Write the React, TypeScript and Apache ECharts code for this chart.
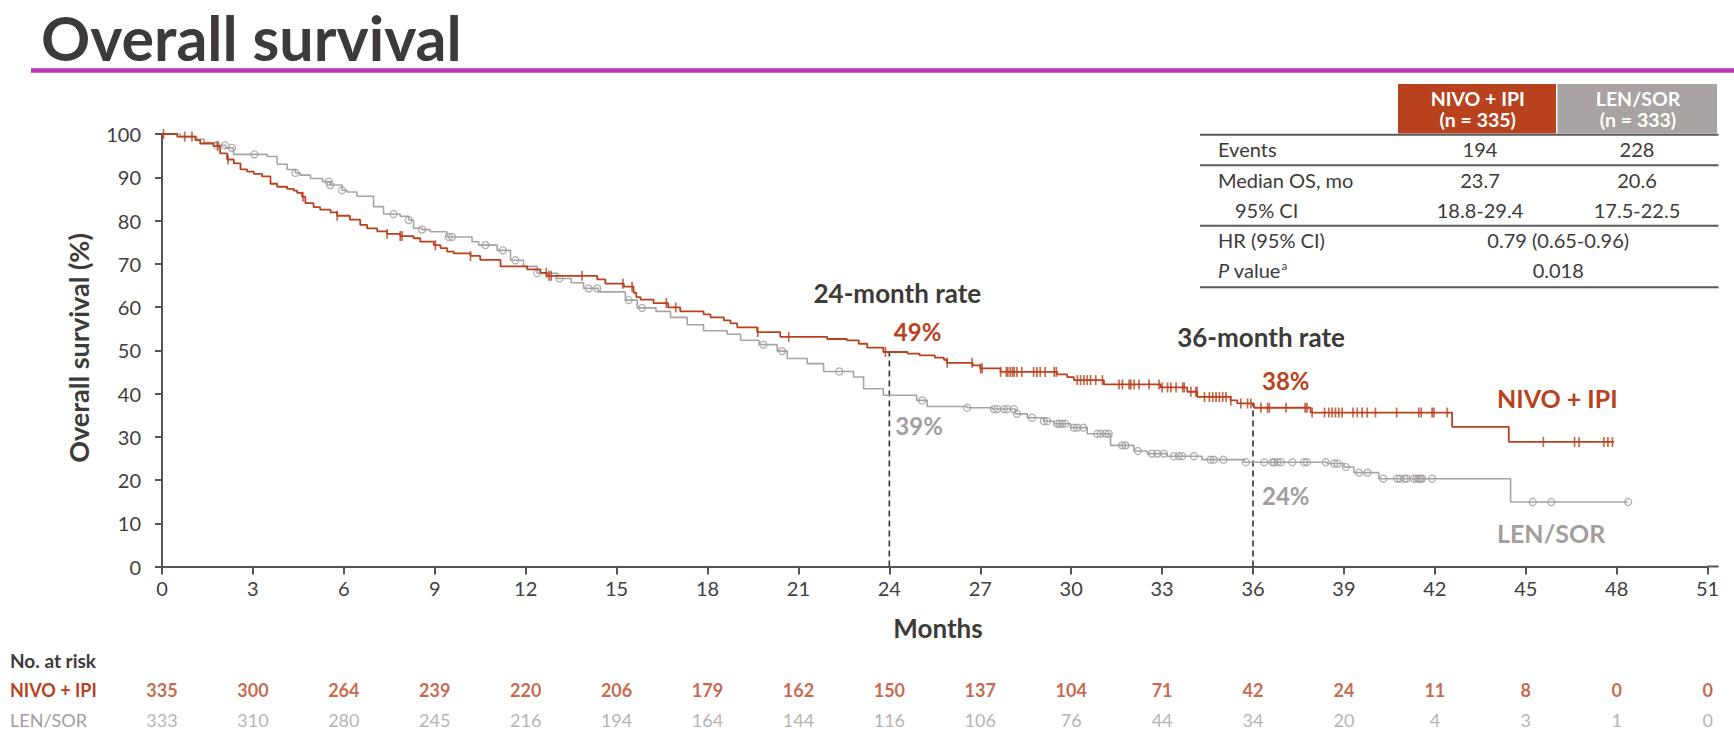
import React, { useEffect, useRef } from "react";
import * as echarts from "echarts";

// ---------------- DATA ----------------
const monthTicks = [0, 3, 6, 9, 12, 15, 18, 21, 24, 27, 30, 33, 36, 39, 42, 45, 48, 51];

// Kaplan-Meier steps: [month, survival % from that month on]
const nivoSteps: [number, number][] = [
  [0, 100], [0.5, 99.4], [1.1, 98.6], [1.26, 97.8], [1.7, 97.2], [1.92, 95.5], [2.15, 94.1], [2.37, 93.2],
  [2.59, 91.8], [2.81, 91.3], [3.03, 90.8], [3.3, 90.2], [3.58, 88.5], [3.8, 87.8], [4.13, 87.3], [4.35, 86.9],
  [4.46, 86.4], [4.62, 85.5], [4.73, 84.0], [5.0, 83.1], [5.22, 82.5], [5.56, 81.9], [5.78, 81.1], [6.2, 80.2],
  [6.54, 79.0], [6.77, 78.2], [7.1, 77.5], [7.43, 76.9], [7.86, 76.4], [8.3, 75.9], [8.52, 75.1], [8.97, 74.3],
  [9.19, 73.6], [9.41, 72.8], [9.63, 72.4], [10.18, 71.8], [10.5, 70.9], [11.17, 69.4], [12.05, 68.7],
  [12.49, 67.9], [12.7, 67.2], [14.36, 66.4], [14.63, 65.4], [15.24, 64.7], [15.56, 63.3], [15.65, 62.3],
  [15.79, 61.7], [16.22, 60.9], [16.7, 59.9], [17.1, 59.0], [17.87, 58.3], [18.1, 57.6], [18.54, 56.9],
  [18.76, 56.2], [18.98, 55.3], [19.64, 54.2], [20.4, 53.1], [21.95, 52.6], [22.6, 52.3], [22.99, 51.5],
  [23.27, 50.6], [23.8, 49.6], [24.6, 49.2], [25.0, 48.8], [25.5, 48.3], [25.8, 47.8], [25.9, 47.1],
  [26.75, 46.5], [27.0, 45.8], [27.67, 45.0], [29.54, 44.4], [29.87, 43.8], [30.09, 43.1], [31.08, 42.1],
  [32.95, 41.4], [33.83, 40.4], [34.16, 39.2], [35.26, 38.4], [35.48, 37.7], [36.03, 36.7], [37.9, 35.6],
  [42.57, 32.3], [44.44, 28.8], [47.91, 28.8],
];

const lenSteps: [number, number][] = [
  [0, 100], [0.6, 99.4], [1.15, 98.8], [1.39, 98.0], [1.8, 97.4], [2.1, 96.8], [2.36, 95.3], [3.47, 94.8],
  [3.8, 93.0], [4.13, 91.8], [4.4, 91.0], [4.56, 90.5], [4.9, 89.7], [5.3, 89.0], [5.55, 88.2], [5.94, 87.0],
  [6.1, 86.6], [6.43, 85.6], [6.98, 83.2], [7.31, 81.5], [7.86, 81.0], [8.14, 80.1], [8.3, 78.2], [8.58, 77.9],
  [8.85, 77.4], [9.4, 76.2], [10.23, 75.1], [10.45, 74.3], [11.06, 73.1], [11.5, 70.8], [11.93, 69.4],
  [12.38, 67.8], [13.04, 66.6], [13.5, 65.6], [13.91, 64.3], [14.4, 63.5], [15.29, 61.6], [15.68, 59.8],
  [16.3, 59.0], [16.78, 57.6], [17.33, 55.9], [17.87, 54.5], [18.65, 53.7], [19.09, 52.3], [19.7, 51.3],
  [20.3, 49.8], [20.63, 48.1], [21.29, 46.9], [21.83, 45.1], [22.82, 43.8], [23.15, 41.1], [23.8, 39.6],
  [24.9, 38.4], [25.25, 37.0], [26.57, 36.7], [27.4, 36.4], [28.16, 35.3], [28.55, 34.4], [29.1, 33.6],
  [29.43, 33.0], [29.98, 32.1], [30.53, 30.7], [31.3, 28.0], [32.07, 26.7], [32.51, 26.1], [33.17, 25.5],
  [34.32, 24.7], [35.7, 24.1], [38.45, 23.8], [39.0, 23.0], [39.33, 21.7], [40.15, 20.3], [44.5, 14.9],
  [48.38, 14.9],
];

const nivoCensorMonths = [
  0.05, 0.75, 0.99, 1.84, 2.18, 4.65, 5.78, 7.43, 7.86, 7.92, 9.02, 10.18, 12.68, 12.77, 12.84, 13.86, 15.21,
  15.51, 16.64, 16.95, 19.66, 20.68, 23.87, 25.91, 26.73, 27.01, 27.06, 27.67, 27.86, 27.91, 27.99, 28.06,
  28.12, 28.21, 28.37, 28.76, 28.87, 28.98, 29.14, 29.44, 29.51, 30.2, 30.31, 30.42, 30.53, 30.64, 30.81,
  31.03, 31.58, 31.69, 31.91, 31.97, 32.08, 32.24, 32.57, 32.9, 33.0, 33.18, 33.29, 33.46, 33.68, 33.73,
  33.95, 34.11, 34.15, 34.4, 34.56, 34.67, 34.78, 34.89, 35.0, 35.11, 35.27, 35.6, 35.82, 35.93, 36.26,
  36.48, 36.54, 37.09, 37.72, 37.78, 37.95, 38.36, 38.5, 38.61, 38.72, 38.83, 38.94, 39.3, 39.44, 39.6,
  39.77, 40.04, 40.74, 41.47, 41.55, 41.91, 41.97, 42.41, 45.58, 46.61, 46.76, 47.58, 47.71, 47.86,
];

const lenCensorMonths = [
  1.8, 2.08, 2.31, 3.05, 4.4, 5.5, 5.55, 5.94, 7.64, 8.14, 8.58, 9.46, 9.57, 10.67, 11.25, 11.66, 12.38,
  13.11, 14.08, 14.36, 15.4, 15.84, 19.84, 20.46, 22.35, 25.08, 26.57, 27.45, 27.56, 27.78, 27.89, 28.11,
  28.21, 28.71, 29.1, 29.21, 29.54, 29.62, 29.7, 29.81, 30.09, 30.2, 30.4, 30.86, 30.97, 31.13, 31.24,
  31.68, 31.79, 32.2, 32.67, 32.84, 33.06, 33.39, 33.55, 33.66, 34.05, 34.6, 34.71, 35.02, 35.76, 36.37,
  36.64, 36.7, 36.81, 36.92, 37.3, 37.69, 37.78, 38.4, 38.68, 38.79, 39.06, 39.5, 39.78, 40.3, 40.76,
  40.85, 41.0, 41.07, 41.31, 41.4, 41.47, 41.53, 41.58, 41.91, 45.23, 45.84, 48.38,
];

const landmarkMonths = [24, 36];
const landmarkTitles = ["24-month rate", "36-month rate"];
const nivoLandmarkRates = ["49%", "38%"];
const lenLandmarkRates = ["39%", "24%"];

const riskRowNames = ["NIVO + IPI", "LEN/SOR"];
const nivoAtRisk = [335, 300, 264, 239, 220, 206, 179, 162, 150, 137, 104, 71, 42, 24, 11, 8, 0, 0];
const lenAtRisk = [333, 310, 280, 245, 216, 194, 164, 144, 116, 106, 76, 44, 34, 20, 4, 3, 1, 0];

const tableHeaders = [
  ["NIVO + IPI", "(n = 335)"],
  ["LEN/SOR", "(n = 333)"],
];
const tableRows: string[][] = [
  ["Events", "194", "228"],
  ["Median OS, mo", "23.7", "20.6"],
  ["95% CI", "18.8-29.4", "17.5-22.5"],
  ["HR (95% CI)", "0.79 (0.65-0.96)"],
  ["P value", "0.018"],
];

// ---------------- STYLE ----------------
const FONT = 'Lato, "Noto Sans", sans-serif';
const ORANGE = "#B8421E";
const GREY_LINE = "#A8A4A4";
const GREY_TEXT = "#A39E9E";
const DARK = "#3D3A3A";
const AXIS = "#555555";

function stepValue(steps: [number, number][], t: number): number {
  let v = steps[0][1];
  for (const [x, y] of steps) {
    if (x <= t) v = y;
    else break;
  }
  return v;
}

function txt(x: number, y: number, text: string, o: any = {}): any {
  const { rotation, ...style } = o;
  return {
    type: "text",
    x,
    y,
    rotation: rotation || 0,
    silent: true,
    style: {
      text,
      fontFamily: FONT,
      fontSize: 20,
      fill: DARK,
      align: "left",
      verticalAlign: "middle",
      ...style,
    },
  };
}

function buildGraphic(chart: any): any[] {
  const g: any[] = [];
  // title + rule
  g.push(txt(41, 37, "Overall survival", { fontSize: 61, fontWeight: "bold", fill: "#3E3A39" }));
  g.push({ type: "line", silent: true, shape: { x1: 31, y1: 70.5, x2: 1734, y2: 70.5 }, style: { stroke: "#BE33BB", lineWidth: 4.5 } });

  // summary table
  const colX = [1398, 1557.5, 1718.5];
  const headFill = [ORANGE, "#A8A2A2"];
  tableHeaders.forEach((h, i) => {
    g.push({ type: "rect", silent: true, shape: { x: colX[i], y: 84, width: colX[i + 1] - colX[i] - 1.5, height: 49.5 }, style: { fill: headFill[i] } });
    const cx = (colX[i] + colX[i + 1]) / 2;
    g.push(txt(cx, 98, h[0], { fill: "#fff", fontWeight: "bold", fontSize: 19.5, align: "center" }));
    g.push(txt(cx, 119.5, h[1], { fill: "#fff", fontWeight: "bold", fontSize: 19.5, align: "center" }));
  });
  [134.7, 165.3, 225.7, 287.3].forEach((y) => {
    g.push({ type: "line", silent: true, shape: { x1: 1200, y1: y, x2: 1718.5, y2: y }, style: { stroke: "#5A5A5A", lineWidth: 2 } });
  });
  const rowY = [149, 179.7, 209.7, 240.3, 269.7];
  const dataCx = [1480, 1637];
  tableRows.forEach((r, i) => {
    const indent = r[0] === "95% CI" ? 1235 : 1218;
    if (r[0] === "P value") {
      g.push({
        type: "text",
        x: indent,
        y: rowY[i],
        silent: true,
        style: {
          text: "{i|P} value{s|a}",
          fontFamily: FONT,
          fontSize: 20,
          fill: DARK,
          align: "left",
          verticalAlign: "middle",
          rich: {
            i: { fontFamily: FONT, fontSize: 20, fontStyle: "italic", fill: DARK },
            s: { fontFamily: FONT, fontSize: 11, fill: DARK, verticalAlign: "top", padding: [0, 0, 0, 1] },
          },
        },
      });
    } else {
      g.push(txt(indent, rowY[i], r[0]));
    }
    if (r.length === 3) {
      g.push(txt(dataCx[0], rowY[i], r[1], { align: "center" }));
      g.push(txt(dataCx[1], rowY[i], r[2], { align: "center" }));
    } else {
      g.push(txt((colX[0] + colX[2]) / 2, rowY[i], r[1], { align: "center" }));
    }
  });

  // x-axis line runs a little past the last tick
  const [xEnd, yBase] = chart.convertToPixel({ gridIndex: 0 }, [51, 0]);
  g.push({ type: "line", silent: true, shape: { x1: xEnd, y1: yBase, x2: xEnd + 11, y2: yBase }, style: { stroke: AXIS, lineWidth: 2 } });

  // axis titles
  g.push(txt(78, 348, "Overall survival (%)", { fontSize: 27, fontWeight: "bold", align: "center", rotation: Math.PI / 2 }));
  g.push(txt(938, 628, "Months", { fontSize: 26, fontWeight: "bold", align: "center" }));

  // landmark annotations, anchored to the axis scale
  landmarkMonths.forEach((m, i) => {
    const [px] = chart.convertToPixel({ gridIndex: 0 }, [m, 0]);
    const titleY = i === 0 ? 293 : 337;
    const nivoY = i === 0 ? 331.5 : 380;
    const lenY = i === 0 ? 425 : 495;
    g.push(txt(px + 8, titleY, landmarkTitles[i], { fontSize: 26, fontWeight: "bold", align: "center" }));
    g.push(txt(px + (i === 0 ? 4.5 : 9), nivoY, nivoLandmarkRates[i], { fontSize: 24, fontWeight: "bold", fill: ORANGE }));
    g.push(txt(px + (i === 0 ? 6 : 9), lenY, lenLandmarkRates[i], { fontSize: 24, fontWeight: "bold", fill: GREY_TEXT }));
  });
  g.push(txt(1497, 398, "NIVO + IPI", { fontSize: 25, fontWeight: "bold", fill: ORANGE }));
  g.push(txt(1497, 533, "LEN/SOR", { fontSize: 25, fontWeight: "bold", fill: GREY_TEXT }));

  g.push(txt(10, 660, "No. at risk", { fontSize: 19, fontWeight: "bold" }));
  return g;
}

function buildOption(): any {
  const axisLineStyle = { color: AXIS, width: 2 };
  const landmarkSeries = landmarkMonths.map((m) => ({
    type: "line",
    xAxisIndex: 0,
    yAxisIndex: 0,
    data: [
      [m, 0],
      [m, stepValue(nivoSteps, m)],
    ],
    symbol: "none",
    silent: true,
    lineStyle: { color: "#333", width: 1.6, type: [6, 4] },
    z: 1,
  }));

  return {
    animation: false,
    backgroundColor: "#ffffff",
    textStyle: { fontFamily: FONT },
    grid: [
      { left: 162, top: 134, width: 1545.6, height: 432.5 },
      { left: 162, top: 675, width: 1545.6, height: 60 },
    ],
    xAxis: [
      {
        type: "value",
        gridIndex: 0,
        min: 0,
        max: 51,
        interval: 3,
        axisLine: { show: true, onZero: false, lineStyle: axisLineStyle },
        axisTick: { show: true, length: 8, lineStyle: axisLineStyle },
        axisLabel: { fontSize: 20, color: "#404040", margin: 11, fontFamily: FONT },
        splitLine: { show: false },
      },
      { type: "value", gridIndex: 1, min: 0, max: 51, interval: 3, show: false },
    ],
    yAxis: [
      {
        type: "value",
        gridIndex: 0,
        min: 0,
        max: 100,
        interval: 10,
        axisLine: { show: true, onZero: false, lineStyle: axisLineStyle },
        axisTick: { show: true, length: 7, lineStyle: axisLineStyle },
        axisLabel: { fontSize: 20, color: "#404040", margin: 21, fontFamily: FONT },
        splitLine: { show: false },
      },
      {
        type: "category",
        gridIndex: 1,
        data: riskRowNames,
        inverse: true,
        axisLine: { show: false },
        axisTick: { show: false },
        splitLine: { show: false },
        axisLabel: {
          align: "left",
          margin: 152,
          formatter: (v: string) => (v === riskRowNames[0] ? `{n|${v}}` : `{l|${v}}`),
          rich: {
            n: { color: ORANGE, fontWeight: "bold", fontSize: 18, fontFamily: FONT },
            l: { color: GREY_TEXT, fontSize: 18, fontFamily: FONT },
          },
        },
      },
    ],
    series: [
      ...landmarkSeries,
      {
        type: "line",
        name: "LEN/SOR",
        step: "end",
        data: lenSteps,
        symbol: "none",
        silent: true,
        lineStyle: { color: GREY_LINE, width: 1.6 },
        z: 2,
      },
      {
        type: "scatter",
        name: "LEN/SOR censored",
        data: lenCensorMonths.map((t) => [t, stepValue(lenSteps, t)]),
        symbol: "circle",
        symbolSize: 7,
        silent: true,
        itemStyle: { color: "rgba(255,255,255,0)", borderColor: "#A09B9B", borderWidth: 1.3 },
        z: 3,
      },
      {
        type: "line",
        name: "NIVO + IPI",
        step: "end",
        data: nivoSteps,
        symbol: "none",
        silent: true,
        lineStyle: { color: ORANGE, width: 1.8 },
        z: 4,
      },
      {
        type: "scatter",
        name: "NIVO + IPI censored",
        data: nivoCensorMonths.map((t) => [t, stepValue(nivoSteps, t)]),
        symbol: "rect",
        symbolSize: [1.7, 10],
        silent: true,
        itemStyle: { color: ORANGE },
        z: 5,
      },
      {
        type: "scatter",
        xAxisIndex: 1,
        yAxisIndex: 1,
        silent: true,
        symbolSize: 1,
        itemStyle: { color: "rgba(0,0,0,0)" },
        data: nivoAtRisk.map((n, i) => [monthTicks[i], 0, n]),
        label: {
          show: true,
          position: "inside",
          formatter: (p: any) => String(p.value[2]),
          color: ORANGE,
          fontWeight: "bold",
          fontSize: 18,
          fontFamily: FONT,
        },
      },
      {
        type: "scatter",
        xAxisIndex: 1,
        yAxisIndex: 1,
        silent: true,
        symbolSize: 1,
        itemStyle: { color: "rgba(0,0,0,0)" },
        data: lenAtRisk.map((n, i) => [monthTicks[i], 1, n]),
        label: {
          show: true,
          position: "inside",
          formatter: (p: any) => String(p.value[2]),
          color: GREY_TEXT,
          fontSize: 18,
          fontFamily: FONT,
        },
      },
    ],
  };
}

export default function App() {
  const ref = useRef<HTMLDivElement>(null);
  useEffect(() => {
    const el = ref.current;
    if (!el) return;
    const chart = echarts.init(el, null, { renderer: "svg" });
    chart.setOption(buildOption());
    chart.setOption({ graphic: buildGraphic(chart) });
    return () => chart.dispose();
  }, []);
  return (
    <div
      ref={ref}
      style={{ position: "fixed", left: 0, top: 0, width: 1734, height: 742, background: "#fff" }}
    />
  );
}
